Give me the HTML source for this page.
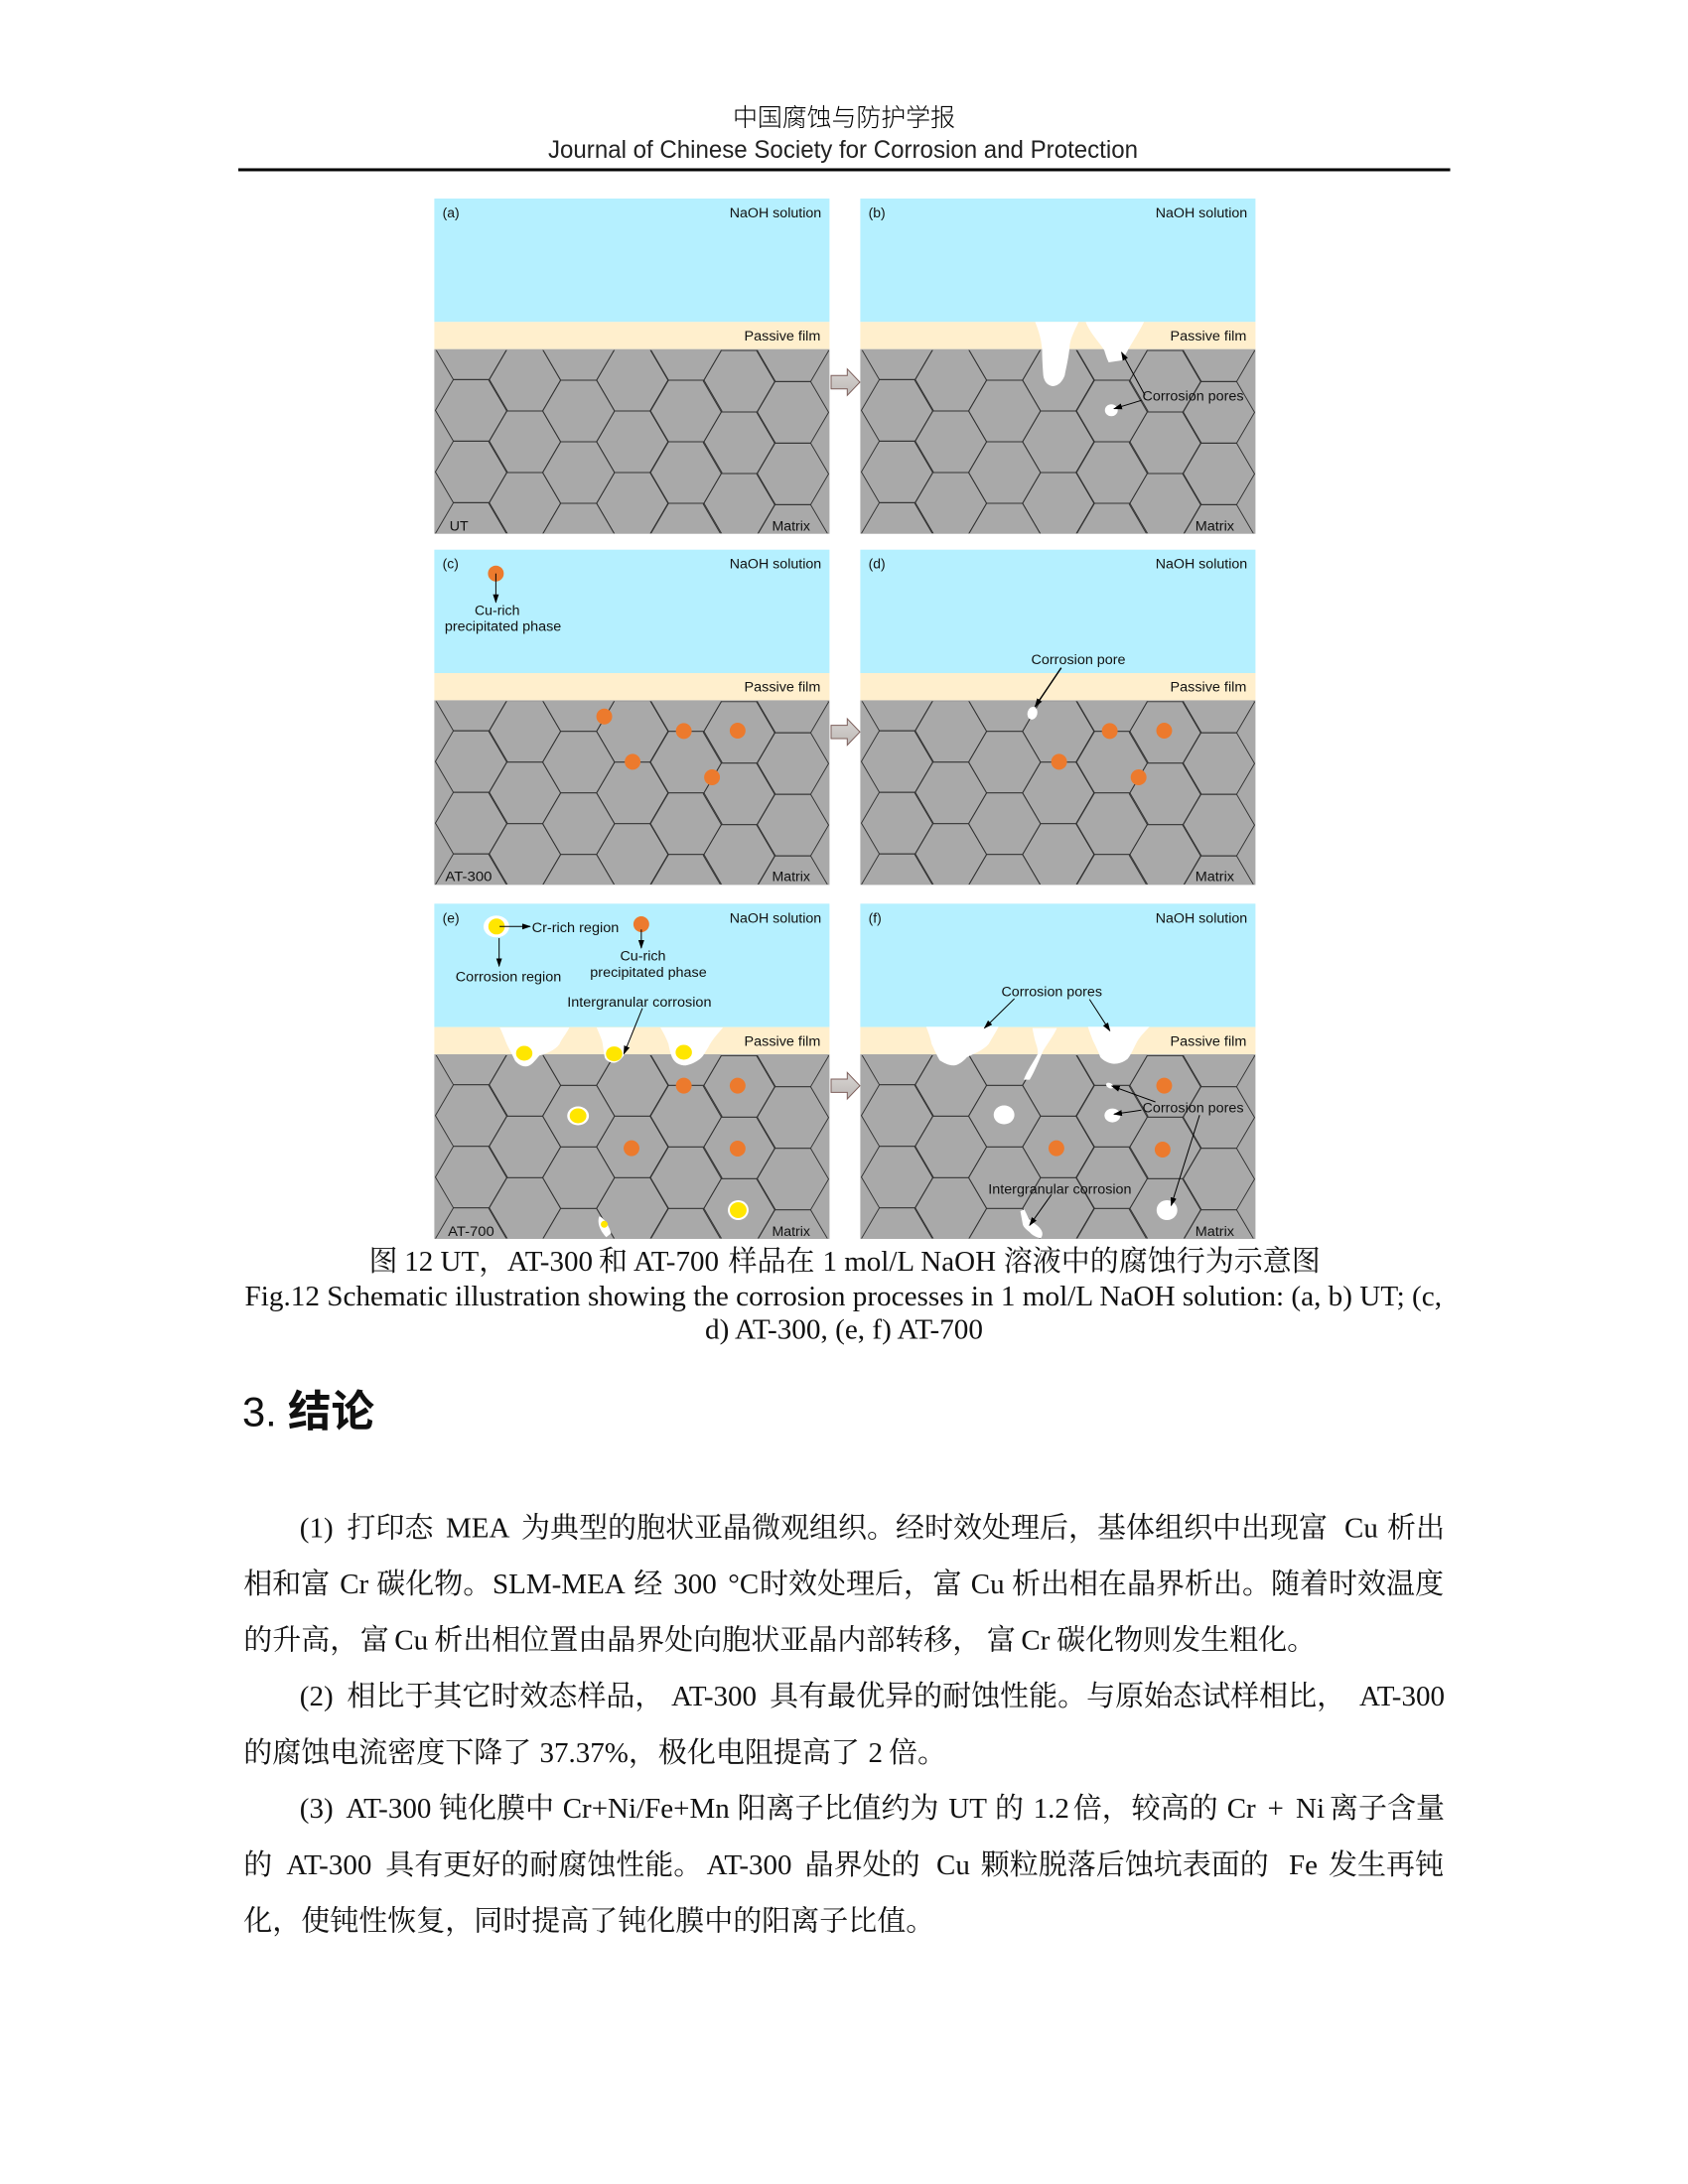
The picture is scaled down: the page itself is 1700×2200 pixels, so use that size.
<!DOCTYPE html>
<html lang="zh"><head><meta charset="utf-8"><title>Fig.12</title>
<style>
html,body{margin:0;padding:0;background:#fff}
svg{display:block}
.l{font:14px "Liberation Sans","Noto Sans CJK SC",sans-serif;fill:#111}
.b text,.b{font:29px "Liberation Serif","Noto Serif CJK SC",serif;fill:#111}
</style></head><body>
<svg width="1700" height="2200" viewBox="0 0 1700 2200" xmlns="http://www.w3.org/2000/svg">
<defs>
<marker id="a" markerWidth="9" markerHeight="7" refX="8" refY="3" orient="auto" markerUnits="userSpaceOnUse"><path d="M0,0L9,3L0,6Z" fill="#000"/></marker>
<polygon id="h" points="-36.4,0 -18.2,-31 18.2,-31 36.4,0 18.2,31 -18.2,31" fill="none" stroke="#333" stroke-width="0.95"/>
<clipPath id="c"><rect x="0" y="152.7" width="400" height="184.5"/></clipPath>
<linearGradient id="g" x1="0" y1="0" x2="0" y2="1"><stop offset="0" stop-color="#d8d5d3"/><stop offset="1" stop-color="#bdb8b5"/></linearGradient>
<g id="p">
<rect width="400" height="124.3" fill="#b5f0ff"/>
<rect y="124.3" width="400" height="27.4" fill="#ffefcd"/>
<rect y="151.7" width="400" height="186" fill="#a9a9a9"/>
<g clip-path="url(#c)"><g transform="translate(0,151.7)">
<use href="#h" x="37.5" y="-0.3"/><use href="#h" x="37.5" y="61.7"/><use href="#h" x="37.5" y="123.7"/><use href="#h" x="37.5" y="185.7"/>
<use href="#h" x="91.5" y="-30.7"/><use href="#h" x="91.5" y="31.3"/><use href="#h" x="91.5" y="93.3"/><use href="#h" x="91.5" y="155.3"/>
<use href="#h" x="146" y="0.3"/><use href="#h" x="146" y="62.3"/><use href="#h" x="146" y="124.3"/><use href="#h" x="146" y="186.3"/>
<use href="#h" x="200.7" y="-30.7"/><use href="#h" x="200.7" y="31.3"/><use href="#h" x="200.7" y="93.3"/><use href="#h" x="200.7" y="155.3"/>
<use href="#h" x="254.7" y="0.3"/><use href="#h" x="254.7" y="62.3"/><use href="#h" x="254.7" y="124.3"/><use href="#h" x="254.7" y="186.3"/>
<use href="#h" x="308.7" y="-29.7"/><use href="#h" x="308.7" y="32.3"/><use href="#h" x="308.7" y="94.3"/><use href="#h" x="308.7" y="156.3"/>
<use href="#h" x="362.7" y="1.7"/><use href="#h" x="362.7" y="63.7"/><use href="#h" x="362.7" y="125.7"/><use href="#h" x="362.7" y="187.7"/>
</g></g>
</g>
<path id="ar" d="M837,378.3H853.3V371.7L866,385L853.3,398.3V391.7H837Z" fill="url(#g)" stroke="#7d5f5b" stroke-width="1"/>
</defs>

<!-- Header -->
<text x="738" y="127" font-family="'Noto Sans CJK SC',sans-serif" font-weight="300" font-size="25" textLength="224" fill="#000">中国腐蚀与防护学报</text>
<text x="552" y="159" font-family="'Liberation Sans',sans-serif" font-size="25" textLength="594" lengthAdjust="spacingAndGlyphs" fill="#222">Journal of Chinese Society for Corrosion and Protection</text>
<rect x="240" y="169.5" width="1220.5" height="3" fill="#000"/>

<!-- Panel a -->
<g transform="translate(437.4,200) scale(.995,1)"><use href="#p"/>
<text class="l" x="8.3" y="19">(a)</text>
<text class="l" x="298.8" y="19" textLength="93" lengthAdjust="spacingAndGlyphs">NaOH solution</text>
<text class="l" x="313.7" y="143" textLength="77.2" lengthAdjust="spacingAndGlyphs">Passive film</text>
<text class="l" x="15.4" y="334.3" textLength="19" lengthAdjust="spacingAndGlyphs">UT</text>
<text class="l" x="341.8" y="334.3" textLength="38.6" lengthAdjust="spacingAndGlyphs">Matrix</text>
</g>
<!-- Panel b -->
<g transform="translate(866.4,200) scale(.995,1)"><use href="#p"/>
<path d="M177,124.3L221,124.3C216,135 212,142 211.7,151.7C210,165 208,172 207,178C204,186 199,189 194.6,189C189,188 186,184 185.2,178C184.5,168 184,160 184,151.7C183,140 180,132 177,124.3Z" fill="#fff"/>
<path d="M228.2,124.3L287.2,124.3C282,135 275,145 270.7,153C268,158 266,161 265,163L251.4,165C249,160 248,156 247,153C243,146 232,135 228.2,124.3Z" fill="#fff"/>
<ellipse cx="254.1" cy="213.3" rx="6.5" ry="6" fill="#fff"/>
<path d="M288.2,198.3L264.5,155" stroke="#000" fill="none" marker-end="url(#a)"/>
<path d="M284.5,203.3L256.9,211.7" stroke="#000" fill="none" marker-end="url(#a)"/>
<text class="l" x="8.3" y="19">(b)</text>
<text class="l" x="298.8" y="19" textLength="93" lengthAdjust="spacingAndGlyphs">NaOH solution</text>
<text class="l" x="313.7" y="143" textLength="77.2" lengthAdjust="spacingAndGlyphs">Passive film</text>
<text class="l" x="285.6" y="203.3" textLength="102.5" lengthAdjust="spacingAndGlyphs">Corrosion pores</text>
<text class="l" x="339" y="334.3" textLength="39.5" lengthAdjust="spacingAndGlyphs">Matrix</text>
</g>
<use href="#ar"/>

<!-- Panel c -->
<g transform="translate(437.4,553.7) scale(.995,1)"><use href="#p"/>
<g fill="#ec7a2d"><circle cx="62.3" cy="24" r="8"/><circle cx="172" cy="168" r="8"/><circle cx="252.5" cy="182.7" r="8"/><circle cx="307" cy="182.3" r="8"/><circle cx="200.7" cy="213.7" r="8"/><circle cx="281.1" cy="229.3" r="8"/></g>
<path d="M62.3,24V53" stroke="#000" fill="none" marker-end="url(#a)"/>
<text class="l" x="8.3" y="19">(c)</text>
<text class="l" x="298.8" y="19" textLength="93" lengthAdjust="spacingAndGlyphs">NaOH solution</text>
<text class="l" x="40.8" y="65.7" textLength="45.7" lengthAdjust="spacingAndGlyphs">Cu-rich</text>
<text class="l" x="10.5" y="82" textLength="118" lengthAdjust="spacingAndGlyphs">precipitated phase</text>
<text class="l" x="313.7" y="143" textLength="77.2" lengthAdjust="spacingAndGlyphs">Passive film</text>
<text class="l" x="11" y="334" textLength="47.4" lengthAdjust="spacingAndGlyphs">AT-300</text>
<text class="l" x="341.8" y="334" textLength="38.6" lengthAdjust="spacingAndGlyphs">Matrix</text>
</g>
<!-- Panel d -->
<g transform="translate(866.4,553.7) scale(.995,1)"><use href="#p"/>
<g fill="#ec7a2d"><circle cx="252.5" cy="182.7" r="8"/><circle cx="307.6" cy="182.3" r="8"/><circle cx="201.2" cy="213.7" r="8"/><circle cx="281.7" cy="229.3" r="8"/></g>
<ellipse cx="174.2" cy="164.7" rx="5" ry="6.5" fill="#fff" transform="rotate(15 174.2 164.7)"/>
<path d="M203.4,119L177,158" stroke="#000" stroke-width="1.4" fill="none" marker-end="url(#a)"/>
<text class="l" x="8.3" y="19">(d)</text>
<text class="l" x="298.8" y="19" textLength="93" lengthAdjust="spacingAndGlyphs">NaOH solution</text>
<text class="l" x="173" y="115.3" textLength="95.5" lengthAdjust="spacingAndGlyphs">Corrosion pore</text>
<text class="l" x="313.7" y="143" textLength="77.2" lengthAdjust="spacingAndGlyphs">Passive film</text>
<text class="l" x="339" y="334" textLength="39.5" lengthAdjust="spacingAndGlyphs">Matrix</text>
</g>
<use href="#ar" y="352.3"/>

<!-- Panel e -->
<g transform="translate(437.4,910.3) scale(.995,1)"><use href="#p"/>
<g fill="#fff">
<path d="M66.2,124.7L136.7,124.7C133,132 129,136 126.8,141.3C122,148 113,151 106.4,153C102,158 98,164 92.6,164C87,164 83,160 81.6,158C79,152 76,147 73.3,141.3C71,136 69,130 66.2,124.7Z"/>
<path d="M164.3,124.7L202.9,124.7C200,134 197,141 194.6,148C191,155 187,160 181.9,160.3C176,160 173,157 172.5,154.7C171,148 171,143 169.7,138C168,133 166,129 164.3,124.7Z"/>
<path d="M228.8,124.7L292.2,124.7C287,131 281,137 277.3,144.7C274,150 272,154 269,156.3C264,160 258,163 252.5,163C246,162 243,159 241.5,156.3C239,152 238,146 237,141.3C235,136 232,130 228.8,124.7Z"/>
<ellipse cx="62.8" cy="23" rx="13" ry="11"/>
<ellipse cx="145.5" cy="213.7" rx="11" ry="9.5"/>
<ellipse cx="307.6" cy="308.7" rx="10.5" ry="10"/>
<path d="M167,315C171,316 176,323 179,332L174,336C169,331 164,322 167,315Z"/>
</g>
<g fill="#ffe600"><ellipse cx="63" cy="23" rx="8.3" ry="8"/><ellipse cx="91" cy="150.7" rx="8.3" ry="7.5"/><ellipse cx="182" cy="151.3" rx="8.3" ry="7.5"/><ellipse cx="252.5" cy="149.7" rx="8.3" ry="7.5"/><ellipse cx="145.5" cy="213.7" rx="8.5" ry="7.5"/><ellipse cx="307.6" cy="308.7" rx="8.5" ry="8"/><ellipse cx="172" cy="323" rx="3.5" ry="3.5"/></g>
<g fill="#ec7a2d"><circle cx="209.5" cy="20.7" r="8"/><circle cx="252.5" cy="183.3" r="8"/><circle cx="307" cy="183.3" r="8"/><circle cx="199.6" cy="246.3" r="8"/><circle cx="307" cy="246.7" r="8"/></g>
<g stroke="#000" fill="none">
<path d="M66,23H97" marker-end="url(#a)"/><path d="M65.6,34.7V63" marker-end="url(#a)"/><path d="M209.5,26V44.7" marker-end="url(#a)"/><path d="M210.6,105.3L191.9,151.3" marker-end="url(#a)"/>
</g>
<text class="l" x="8.3" y="19">(e)</text>
<text class="l" x="298.8" y="19" textLength="93" lengthAdjust="spacingAndGlyphs">NaOH solution</text>
<text class="l" x="98.7" y="28.7" textLength="88.2" lengthAdjust="spacingAndGlyphs">Cr-rich region</text>
<text class="l" x="188" y="57.3" textLength="46.3" lengthAdjust="spacingAndGlyphs">Cu-rich</text>
<text class="l" x="157.7" y="73.7" textLength="118" lengthAdjust="spacingAndGlyphs">precipitated phase</text>
<text class="l" x="21.5" y="78.3" textLength="107" lengthAdjust="spacingAndGlyphs">Corrosion region</text>
<text class="l" x="134.5" y="103.7" textLength="146" lengthAdjust="spacingAndGlyphs">Intergranular corrosion</text>
<text class="l" x="313.7" y="143" textLength="77.2" lengthAdjust="spacingAndGlyphs">Passive film</text>
<text class="l" x="13.8" y="334.7" textLength="46.8" lengthAdjust="spacingAndGlyphs">AT-700</text>
<text class="l" x="341.8" y="334.7" textLength="38.6" lengthAdjust="spacingAndGlyphs">Matrix</text>
</g>
<!-- Panel f -->
<g transform="translate(866.4,910.3) scale(.995,1)"><use href="#p"/>
<g fill="#fff">
<path d="M66.7,124L140,124C137,130 133,136 130,141.3C124,148 115,151 108,154.7C104,159 99,163 94.3,163C89,163 84,160 80.5,158C77,152 75,147 72.2,141.3C71,135 69,130 66.7,124Z"/>
<path d="M174.2,125.3L199,125.3C195,134 190,140 185.2,148C180,160 176,170 171.4,177.3L165.4,177.3C169,168 175,160 179.7,151.3C180,146 178,142 176.9,138C176,134 175,130 174.2,125.3Z"/>
<path d="M230.4,124L292.7,124C287,130 282,135 279,141.3C276,147 274,152 270.6,156.3C266,160 261,161.3 256.8,161.3C251,161 246,158 243,154.7C241,149 238,143 235.5,138C234,134 232,129 230.4,124Z"/>
<ellipse cx="252.5" cy="183.3" rx="4" ry="2.5" transform="rotate(30 252.5 183.3)"/>
<ellipse cx="255.2" cy="213.3" rx="8" ry="7"/>
<ellipse cx="145.5" cy="212.7" rx="10.5" ry="9.5"/>
<ellipse cx="310.4" cy="308.7" rx="10.5" ry="10"/>
<path d="M162,309.7L166,308L171,318L174.6,321C179,324 183,327 184.1,331C185,334 183,337 182.5,337C178,336 174,334 171.5,331C168,328 165,326 164.4,322.7Z"/>
</g>
<g fill="#ec7a2d"><circle cx="307.6" cy="183.3" r="8"/><circle cx="198.5" cy="246.3" r="8"/><circle cx="306" cy="247.7" r="8"/></g>
<g stroke="#000" fill="none">
<path d="M156,95.7L125.7,125.3" marker-end="url(#a)"/><path d="M232,96.3L252.6,128" marker-end="url(#a)"/>
<path d="M298.7,199.7L254.6,183.7" marker-end="url(#a)"/><path d="M284.5,208L256.9,212" marker-end="url(#a)"/><path d="M343.4,213L314.7,304" marker-end="url(#a)"/>
<path d="M193.5,293L171.4,324" marker-end="url(#a)"/>
</g>
<text class="l" x="8.3" y="19">(f)</text>
<text class="l" x="298.8" y="19" textLength="93" lengthAdjust="spacingAndGlyphs">NaOH solution</text>
<text class="l" x="142.8" y="93.3" textLength="102" lengthAdjust="spacingAndGlyphs">Corrosion pores</text>
<text class="l" x="313.7" y="143" textLength="77.2" lengthAdjust="spacingAndGlyphs">Passive film</text>
<text class="l" x="285.6" y="210" textLength="102.5" lengthAdjust="spacingAndGlyphs">Corrosion pores</text>
<text class="l" x="129.5" y="292" textLength="145" lengthAdjust="spacingAndGlyphs">Intergranular corrosion</text>
<text class="l" x="339" y="334.7" textLength="39.5" lengthAdjust="spacingAndGlyphs">Matrix</text>
</g>
<use href="#ar" y="708.7"/>

<!-- Caption -->
<g class="b">
<text x="371.5" y="1280">图</text><text x="407.3" y="1280">12 UT，</text><text x="511" y="1280">AT-300</text><text x="603" y="1280">和</text><text x="638" y="1280">AT-700</text><text x="733.5" y="1280">样品在</text><text x="828.5" y="1280">1 mol/L NaOH</text><text x="1010.8" y="1280">溶液中的腐蚀行为示意图</text>
<text x="246.5" y="1315" textLength="1205.5" lengthAdjust="spacingAndGlyphs">Fig.12 Schematic illustration showing the corrosion processes in 1 mol/L NaOH solution: (a, b) UT; (c,</text>
<text x="710" y="1348.3" textLength="280" lengthAdjust="spacingAndGlyphs">d) AT-300, (e, f) AT-700</text>
</g>

<!-- Heading -->
<text x="244" y="1436.7" font-family="'Liberation Sans',sans-serif" font-size="41.67" fill="#111">3.</text>
<text x="290" y="1437" font-family="'Noto Sans CJK SC',sans-serif" font-size="43.5" font-weight="700" fill="#111">结论</text>

<!-- Body -->
<g class="b">
<text x="301.8" y="1548.5">(1)</text><text x="349.4" y="1548.5">打印态</text><text x="449" y="1548.5">MEA</text><text x="525" y="1548.5">为典型的胞状亚晶微观组织。经时效处理后，基体组织中出现富</text><text x="1354" y="1548.5">Cu</text><text x="1397" y="1548.5">析出</text>

<text x="245.3" y="1605">相和富</text><text x="342.2" y="1605">Cr</text><text x="379.2" y="1605">碳化物。</text><text x="496" y="1605">SLM-MEA</text><text x="638.4" y="1605">经</text><text x="678.2" y="1605">300</text><text x="733.3" y="1605">°C</text><text x="765" y="1605">时效处理后，</text><text x="939.6" y="1605">富</text><text x="977.8" y="1605">Cu</text><text x="1019" y="1605">析出相在晶界析出。随着时效温度</text>

<text x="245.3" y="1661.5">的升高，</text><text x="362.9" y="1661.5">富</text><text x="397.3" y="1661.5">Cu</text><text x="437.2" y="1661.5">析出相位置由晶界处向胞状亚晶内部转移，</text><text x="993.9" y="1661.5">富</text><text x="1028.4" y="1661.5">Cr</text><text x="1064.1" y="1661.5">碳化物则发生粗化。</text>

<text x="301.8" y="1718">(2)</text><text x="349.4" y="1718">相比于其它时效态样品，</text><text x="676.1" y="1718">AT-300</text><text x="775.1" y="1718">具有最优异的耐蚀性能。与原始态试样相比，</text><text x="1369" y="1718">AT-300</text>

<text x="245.3" y="1775">的腐蚀电流密度下降了</text><text x="543.5" y="1775">37.37%，</text><text x="662.9" y="1775">极化电阻提高了</text><text x="874.5" y="1775">2</text><text x="895" y="1775">倍。</text>

<text x="301.8" y="1831">(3)</text><text x="348.4" y="1831">AT-300</text><text x="442" y="1831">钝化膜中</text><text x="566.7" y="1831">Cr+Ni/Fe+Mn</text><text x="742.5" y="1831">阳离子比值约为</text><text x="955.3" y="1831">UT</text><text x="1002" y="1831">的</text><text x="1040.6" y="1831">1.2</text><text x="1080.8" y="1831">倍，</text><text x="1139.6" y="1831">较高的</text><text x="1235.7" y="1831">Cr</text><text x="1276.5" y="1831">+</text><text x="1305" y="1831">Ni</text><text x="1339" y="1831">离子含量</text>

<text x="245.3" y="1888">的</text><text x="288.4" y="1888">AT-300</text><text x="388.2" y="1888">具有更好的耐腐蚀性能。</text><text x="711.6" y="1888">AT-300</text><text x="810.6" y="1888">晶界处的</text><text x="943" y="1888">Cu</text><text x="987.8" y="1888">颗粒脱落后蚀坑表面的</text><text x="1298" y="1888">Fe</text><text x="1338" y="1888">发生再钝</text>

<text x="245.3" y="1944.5">化，使钝性恢复，同时提高了钝化膜中的阳离子比值。</text>
</g>
</svg>
</body></html>
